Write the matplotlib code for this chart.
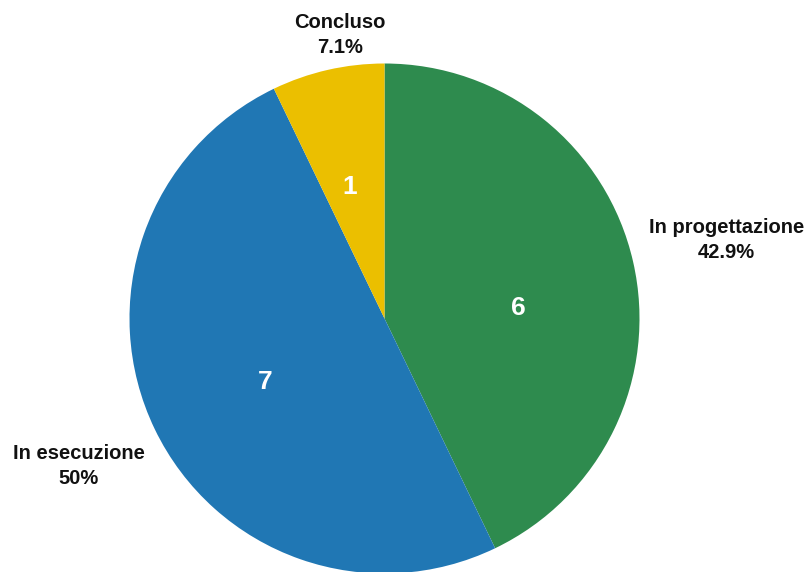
import numpy as np
import matplotlib
matplotlib.use("Agg")
import matplotlib.pyplot as plt

# dati
categorie = ["In progettazione", "In esecuzione", "Concluso"]
valori = [6, 7, 1]
colori = ["#2e8b4e", "#2077b4", "#ebbf00"]

plt.rcParams["font.family"] = ["Liberation Sans", "DejaVu Sans"]

W, H, DPI = 811, 572, 100
R_PX = 255.0          # raggio della torta in pixel
CX, CY = 384.5, 318.5  # centro in pixel (dall'alto)

fig = plt.figure(figsize=(W / DPI, H / DPI), dpi=DPI)
ax = fig.add_axes([0, 0, 1, 1])

wedges, _ = ax.pie(valori, colors=colori, startangle=90, counterclock=False,
                   radius=1, center=(0, 0), wedgeprops=dict(linewidth=0))

ax.set_aspect("auto")
ax.set_xlim(-CX / R_PX, (W - CX) / R_PX)
ax.set_ylim(-(H - CY) / R_PX, CY / R_PX)
ax.axis("off")

totale = sum(valori)
# distanze etichette esterne/interne e piccoli aggiustamenti (px)
dist_out = [1.375, 1.33, 1.14]
shift_out = [(0, 0), (0, 0), (20, 0)]
shift_in = [(2, -20), (2, -5), (-5, 0)]

for w, cat, v, so, si, d in zip(wedges, categorie, valori, shift_out, shift_in, dist_out):
    ang = np.deg2rad((w.theta1 + w.theta2) / 2)
    pct = f"{100 * v / totale:.1f}".rstrip("0").rstrip(".") + "%"

    x, y = d * np.cos(ang), d * np.sin(ang)
    ax.annotate(f"{cat}\n{pct}", (x, y), xytext=(so[0] * 0.72, so[1] * 0.72),
                textcoords="offset points", ha="center", va="center",
                fontsize=14.5, fontweight="bold", color="#111111", linespacing=1.4)

    xi, yi = 0.53 * np.cos(ang), 0.53 * np.sin(ang)
    ax.annotate(str(v), (xi, yi), xytext=(si[0] * 0.72, si[1] * 0.72),
                textcoords="offset points", ha="center", va="center",
                fontsize=19, fontweight="bold", color="white")

fig.savefig("out.png", dpi=DPI)
